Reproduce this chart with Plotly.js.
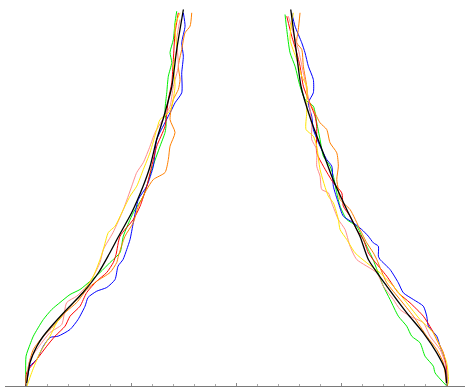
<!DOCTYPE html>
<html>
<head>
<meta charset="utf-8">
<script src="https://cdn.plot.ly/plotly-3.0.1.min.js"></script>
<style>html,body{margin:0;padding:0;background:#fff;}#chart{width:465px;height:390px;}</style>
</head>
<body>
<div id="chart"></div>
<script>
// ---- data (x: position, y: time) ----
const greenLeftY = [0,0.149,0.2075,0.249,0.3325,0.3825,0.4175,0.4575,0.4825,0.524,0.5675,0.6175,0.6675,0.749,0.8675,0.949,1.0825,1.199,1.2675,1.3075,1.3825,1.466,1.549,1.6175,1.6675,1.7325,1.8175,1.874];
const greenLeftX = [-1.0,-1.0,-0.981,-0.9653,-0.9178,-0.8778,-0.8384,-0.7908,-0.7433,-0.6957,-0.6482,-0.6007,-0.5531,-0.5374,-0.4899,-0.4424,-0.4024,-0.363,-0.3392,-0.334,-0.3392,-0.3311,-0.3235,-0.3073,-0.3154,-0.2997,-0.2917,-0.2836];

const blueLeftY = [0,0.099,0.1325,0.199,0.2425,0.249,0.2825,0.3325,0.399,0.4425,0.474,0.4925,0.5325,0.599,0.6325,0.6825,0.7325,0.8175,0.9325,0.999,1.099,1.2325,1.3075,1.3825,1.416,1.466,1.566,1.649,1.716,1.799,1.866];
const blueLeftX = [-1.0,-0.981,-0.949,-0.9178,-0.8859,-0.8479,-0.7908,-0.7528,-0.7195,-0.7053,-0.6639,-0.6164,-0.5769,-0.5626,-0.5389,-0.5213,-0.5056,-0.4899,-0.4661,-0.4262,-0.3948,-0.3787,-0.344,-0.3073,-0.2917,-0.2598,-0.2598,-0.2522,-0.2598,-0.2441,-0.2522];

const redLeftY = [0,0.0675,0.1325,0.199,0.249,0.299,0.349,0.399,0.4675,0.524,0.5675,0.6175,0.6575,0.749,0.8325,0.899,0.999,1.099,1.199,1.299,1.4325,1.516,1.6325,1.766,1.866];
const redLeftX = [-1.0,-0.9967,-0.949,-0.9016,-0.8621,-0.8146,-0.7908,-0.7433,-0.7114,-0.6639,-0.6164,-0.585,-0.5721,-0.5531,-0.4899,-0.458,-0.4262,-0.4024,-0.3787,-0.3392,-0.3235,-0.3073,-0.2997,-0.2917,-0.276];

const orangeLeftY = [0,0.099,0.1825,0.249,0.299,0.374,0.4175,0.4825,0.524,0.5675,0.6175,0.649,0.749,0.8175,0.899,0.9825,1.0325,1.0675,1.1325,1.199,1.2675,1.3325,1.4325,1.4825,1.5325,1.599,1.6825,1.766,1.799,1.866];
const orangeLeftX = [-1.0,-0.989,-0.9653,-0.9178,-0.8702,-0.8065,-0.759,-0.7114,-0.6639,-0.6007,-0.5688,-0.5612,-0.5294,-0.4899,-0.4661,-0.4262,-0.3948,-0.3392,-0.3235,-0.3154,-0.2917,-0.3154,-0.2997,-0.276,-0.2679,-0.276,-0.2598,-0.2441,-0.2203,-0.2123];

const pinkLeftY = [0,0.1325,0.1825,0.2675,0.3075,0.4175,0.449,0.499,0.549,0.6175,0.6825,0.7675,0.8825,0.999,1.0675,1.1175,1.199,1.2675,1.324,1.399,1.499,1.599,1.7325,1.8325];
const pinkLeftX = [-1.0,-0.981,-0.949,-0.8859,-0.8303,-0.8065,-0.759,-0.7114,-0.6801,-0.6482,-0.6325,-0.5864,-0.5374,-0.4975,-0.4737,-0.4424,-0.4105,-0.3867,-0.3549,-0.3154,-0.2997,-0.276,-0.2836,-0.2679];

const yellowLeftY = [0,0.0675,0.1675,0.249,0.3175,0.3825,0.449,0.549,0.6325,0.6825,0.7675,0.799,0.8825,0.949,0.999,1.0825,1.1675,1.2825,1.3325,1.366,1.399,1.499,1.599,1.6825,1.799,1.866];
const yellowLeftX = [-0.9953,-0.9729,-0.9334,-0.8859,-0.854,-0.8065,-0.7433,-0.6801,-0.6482,-0.6325,-0.6088,-0.5769,-0.5374,-0.5056,-0.4737,-0.4424,-0.4105,-0.3787,-0.363,-0.3235,-0.3073,-0.2917,-0.2997,-0.2836,-0.2917,-0.2679];

const blackLeftY = [0,0.0175,0.1175,0.1975,0.2475,0.3075,0.3825,0.4675,0.5675,0.6575,0.7425,0.8675,0.9975,1.0975,1.2325,1.3325,1.4975,1.6825,1.8825];
const blackLeftX = [-1.0,-0.9967,-0.981,-0.949,-0.919,-0.872,-0.8065,-0.729,-0.655,-0.606,-0.563,-0.4975,-0.444,-0.4105,-0.379,-0.349,-0.307,-0.2836,-0.252];

const greenRightY = [1.8575,1.7825,1.666,1.599,1.499,1.4325,1.399,1.316,1.2325,1.149,1.099,1.049,0.966,0.899,0.8325,0.799,0.7325,0.6825,0.6325,0.499,0.4325,0.349,0.299,0.249,0.216,0.149,0.099,0.066,0];
const greenRightX = [0.2313,0.2394,0.2551,0.2788,0.3026,0.3264,0.3658,0.382,0.3977,0.4134,0.4452,0.4609,0.4771,0.4928,0.5246,0.5721,0.6035,0.6273,0.6496,0.6986,0.7305,0.7699,0.8098,0.8336,0.8731,0.8968,0.9363,0.9444,1.0];

const blueRightY = [1.866,1.799,1.716,1.666,1.599,1.5325,1.466,1.416,1.349,1.2825,1.199,1.1325,1.099,0.999,0.916,0.849,0.816,0.7825,0.749,0.716,0.699,0.649,0.6325,0.5825,0.516,0.466,0.4325,0.399,0.349,0.299,0.249,0.199,0.1325,0.049,0];
const blueRightX = [0.2631,0.2788,0.3107,0.3264,0.342,0.3658,0.3658,0.342,0.3582,0.3658,0.3977,0.4295,0.4533,0.4609,0.4847,0.5084,0.556,0.5959,0.6273,0.651,0.6748,0.675,0.6829,0.7305,0.7699,0.7937,0.8412,0.8888,0.9049,0.9125,0.9525,0.9682,0.9919,1.0,1.0];

const redRightY = [1.849,1.749,1.666,1.599,1.499,1.4325,1.349,1.299,1.166,1.099,1.016,0.966,0.899,0.849,0.7825,0.7325,0.666,0.6325,0.549,0.466,0.416,0.349,0.2825,0.216,0.166,0.0825,0];
const redRightX = [0.2394,0.2631,0.2869,0.3026,0.3183,0.342,0.3739,0.382,0.382,0.4134,0.4609,0.5008,0.5084,0.5403,0.5721,0.6035,0.6273,0.6496,0.7148,0.7699,0.8255,0.8888,0.9287,0.9601,0.9838,1.0,1.0];

const orangeRightY = [1.866,1.7825,1.716,1.6825,1.599,1.499,1.4325,1.3825,1.316,1.2825,1.216,1.166,1.099,1.0325,0.9825,0.9325,0.8825,0.7825,0.716,0.666,0.6325,0.516,0.4325,0.349,0.249,0.1825,0.116,0];
const orangeRightX = [0.3026,0.2945,0.2869,0.3107,0.3183,0.3344,0.342,0.3658,0.3977,0.4295,0.4452,0.4771,0.4847,0.4771,0.4847,0.4928,0.5403,0.5878,0.6197,0.651,0.6672,0.7148,0.778,0.8412,0.9049,0.9525,0.9838,1.0];

const pinkRightY = [1.849,1.766,1.6825,1.566,1.4825,1.3825,1.299,1.2325,1.1825,1.099,1.049,0.9825,0.966,0.916,0.8325,0.7825,0.699,0.6325,0.566,0.499,0.4325,0.3825,0.349,0.316,0.249,0.1825,0.116,0];
const pinkRightX = [0.247,0.2707,0.2945,0.3183,0.3344,0.3501,0.3582,0.3582,0.382,0.382,0.3977,0.4058,0.4371,0.4533,0.4847,0.5165,0.5403,0.5721,0.6672,0.6986,0.7461,0.778,0.8255,0.8888,0.9206,0.9682,0.9919,1.0];

const yellowRightY = [1.866,1.7325,1.6325,1.549,1.499,1.4325,1.366,1.2825,1.249,1.199,1.0825,0.949,0.916,0.8325,0.7825,0.7325,0.666,0.616,0.566,0.499,0.416,0.3325,0.266,0.199,0.116,0.016,0];
const yellowRightX = [0.2707,0.2551,0.2869,0.3107,0.3344,0.3344,0.3344,0.3311,0.3658,0.382,0.3977,0.4371,0.4609,0.4847,0.4928,0.5246,0.5641,0.6197,0.6829,0.7461,0.8098,0.8731,0.9363,0.9682,1.0,1.0078,1.0];

const blackRightY = [1.8825,1.6825,1.4975,1.3325,1.1675,1.0325,0.8825,0.7475,0.6325,0.499,0.366,0.266,0.166,0.0825,0];
const blackRightX = [0.2584,0.2836,0.3073,0.3535,0.4119,0.4595,0.5246,0.5878,0.6273,0.7148,0.8098,0.8888,0.9525,0.9919,1.0];

const majorTicks = [-1,-0.5,0,0.5,1];

// ---- traces ----
function tr(x, y, color, w, shape) {
  return {x: x, y: y, type: 'scatter', mode: 'lines',
          line: {color: color, width: w, shape: shape || 'linear', smoothing: 0.6},
          hoverinfo: 'skip', showlegend: false};
}
const GREEN = '#00ee00', BLUE = '#0000ff', RED = '#ff0000', ORANGE = '#ff8000',
      PINK = '#ff8c8c', YELLOW = '#ffe600', BLACK = '#000000';
const W = 1.0;
const data = [
  tr(greenLeftX, greenLeftY, GREEN, W, 'spline'), tr(greenRightX, greenRightY, GREEN, W, 'spline'),
  tr(blueLeftX, blueLeftY, BLUE, W, 'spline'), tr(blueRightX, blueRightY, BLUE, W, 'spline'),
  tr(redLeftX, redLeftY, RED, W, 'spline'), tr(redRightX, redRightY, RED, W, 'spline'),
  tr(orangeLeftX, orangeLeftY, ORANGE, W, 'spline'), tr(orangeRightX, orangeRightY, ORANGE, W, 'spline'),
  tr(pinkLeftX, pinkLeftY, PINK, W, 'spline'), tr(pinkRightX, pinkRightY, PINK, W, 'spline'),
  tr(yellowLeftX, yellowLeftY, YELLOW, W, 'spline'), tr(yellowRightX, yellowRightY, YELLOW, W, 'spline'),
  tr(blackLeftX, blackLeftY, BLACK, 1.3, 'spline'), tr(blackRightX, blackRightY, BLACK, 1.3, 'spline')
];

const layout = {
  width: 465, height: 390,
  margin: {l: 5, r: 0, t: 0, b: 4, pad: 0},
  paper_bgcolor: '#ffffff', plot_bgcolor: '#ffffff',
  showlegend: false,
  xaxis: {
    range: [-1.1, 1.0868], showgrid: false, zeroline: false,
    showline: true, linecolor: '#7a7a7a', linewidth: 1.3,
    tickmode: 'array', tickvals: majorTicks, ticks: 'inside', ticklen: 3, tickwidth: 1, tickcolor: '#888888',
    showticklabels: false,
    minor: {tick0: 0, dtick: 0.1, ticks: 'inside', ticklen: 2, tickwidth: 1, tickcolor: '#aaaaaa', showgrid: false},
    fixedrange: true
  },
  yaxis: {range: [0, 1.93], visible: false, showgrid: false, zeroline: false, fixedrange: true}
};
Plotly.newPlot('chart', data, layout, {displayModeBar: false, staticPlot: true});
</script>
</body>
</html>
